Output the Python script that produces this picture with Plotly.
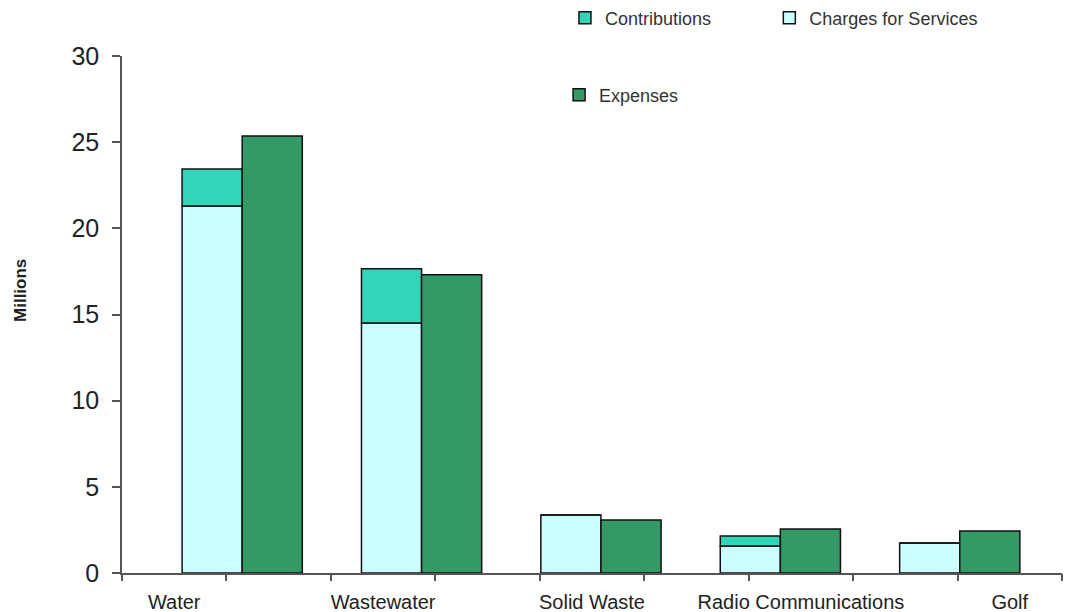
import plotly.graph_objects as go

categories = ["Water", "Wastewater", "Solid Waste", "Radio Communications", "Golf"]
charges = [21.3, 14.5, 3.37, 1.57, 1.74]
contributions = [2.15, 3.15, 0.0, 0.58, 0.0]
expenses = [25.36, 17.3, 3.08, 2.55, 2.44]
y_ticks = [0, 5, 10, 15, 20, 25, 30]

FONT = "Liberation Sans, Arial, sans-serif"
C_CHG = "#CCFFFF"
C_CON = "#33D4B8"
C_EXP = "#339966"
LINE = dict(color="#111111", width=1.5)

# label axis positions (every other slot of nine)
label_pos = [0.5, 2.5, 4.5, 6.5, 8.5]
slot_ticks = list(range(10))

fig = go.Figure()
fig.add_trace(go.Bar(x=categories, y=charges, name="Charges for Services",
                     marker=dict(color=C_CHG, line=LINE), width=0.335, offset=-0.335,
                     legend="legend2"))
fig.add_trace(go.Bar(x=categories, y=contributions, base=charges, name="Contributions",
                     marker=dict(color=C_CON, line=LINE), width=0.335, offset=-0.335,
                     legend="legend"))
fig.add_trace(go.Bar(x=categories, y=expenses, name="Expenses",
                     marker=dict(color=C_EXP, line=LINE), width=0.335, offset=0.0,
                     legend="legend3"))
# empty helper trace so the label axis is drawn
fig.add_trace(go.Scatter(x=label_pos, y=[None] * len(label_pos), xaxis="x2",
                         mode="markers", showlegend=False, hoverinfo="skip"))

legend_common = dict(font=dict(family=FONT, size=18, color="#333333"),
                     bgcolor="rgba(0,0,0,0)", xanchor="left", yanchor="middle",
                     orientation="h", xref="container", yref="container")

fig.update_layout(
    width=1070, height=612,
    margin=dict(l=122, r=8, t=56, b=39, autoexpand=False),
    paper_bgcolor="white", plot_bgcolor="white",
    barmode="overlay",
    showlegend=True,
    font=dict(family=FONT, color="#222222"),
    legend=dict(x=0.528, y=0.9706, **legend_common),
    legend2=dict(x=0.719, y=0.9706, **legend_common),
    legend3=dict(x=0.5225, y=0.8448, **legend_common),
    xaxis=dict(type="category", range=[-0.67, 4.57], showticklabels=False,
               ticks="", showline=True, linecolor="#555555", linewidth=1.5,
               showgrid=False, zeroline=False, fixedrange=True, automargin=False),
    xaxis2=dict(overlaying="x", anchor="y", side="bottom", range=[0, 9],
                tickvals=label_pos, ticktext=categories, ticks="outside",
                ticklen=11, tickcolor="rgba(0,0,0,0)", automargin=False,
                tickfont=dict(family=FONT, size=20, color="#222222"),
                minor=dict(tickvals=slot_ticks, ticks="outside", ticklen=7,
                           tickcolor="#555555", tickwidth=1.5, showgrid=False),
                showline=False, showgrid=False, zeroline=False),
    yaxis=dict(range=[0, 30], tickvals=y_ticks, ticks="outside", ticklen=8,
               tickcolor="#555555", tickwidth=1.5, showline=True,
               linecolor="#555555", linewidth=1.5, showgrid=False, zeroline=False,
               ticklabelstandoff=8, automargin=False,
               tickfont=dict(family=FONT, size=25, color="#222222")),
    annotations=[dict(text="<b>Millions</b>", textangle=-90, x=-0.121, y=0.547,
                      xref="paper", yref="paper", showarrow=False,
                      font=dict(family=FONT, size=17, color="#222222"))],
)

fig.write_html("out.html")
